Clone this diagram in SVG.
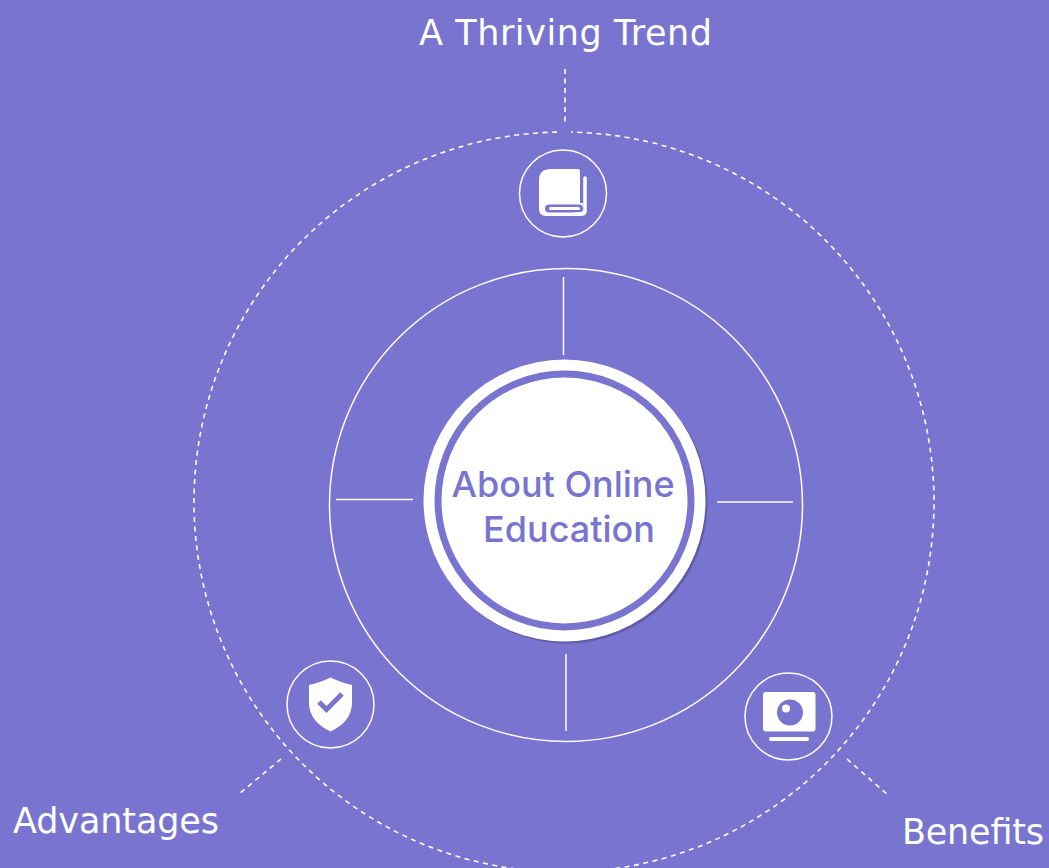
<svg xmlns="http://www.w3.org/2000/svg" width="1049" height="868" viewBox="0 0 1049 868">
<style>
.t{font-family:"DejaVu Sans","Liberation Sans",sans-serif;font-size:35px;fill:#fff}
.c{font-family:"Inter","Liberation Sans",sans-serif;font-weight:500;font-size:36px;fill:#7874cf;text-anchor:middle}
.l{stroke:#fff;stroke-width:1.5;fill:none}
.d{stroke:#fff;stroke-width:1.6;fill:none;stroke-dasharray:5 4.500}
.w{fill:#fff}
.p{fill:#7874cf}
</style>
<rect width="1049" height="868" fill="#7874cf"/>
<g id="connectors">
<path class="d" d="M557 132.100A370 370 0 1 0 571 132.100"/>
<path class="l" d="M563.500 277V355M336 499.500H413M717 502H793M566 654V731"/>
<path class="d" d="M565 69V124M281 759L239 794M847 759L888 795"/>
<circle class="l" cx="566" cy="505" r="236.500"/>
</g>
<g id="center">
<circle cx="566.500" cy="502.500" r="141" fill="#5f5ca6"/>
<circle class="w" cx="564.500" cy="500.500" r="141"/>
<circle cx="564.500" cy="500.500" r="126.500" fill="none" stroke="#7874cf" stroke-width="7"/>
<text class="c" x="563" y="497">About Online</text>
<text class="c" x="569" y="542">Education</text>
</g>
<g id="trend">
<circle class="l" cx="563" cy="193.500" r="43.500"/>
<path class="w" d="M551 169H578Q580 169 580 171V203H583V213.500Q583 216 580 216H546Q539 216 539 209V180Q539 169 551 169Z"/>
<rect class="p" x="545" y="204.500" width="38" height="8" rx="4"/>
<rect class="w" x="549" y="207" width="31" height="3" rx="1.500"/>
<path d="M585 178V211Q585 214 582 214H575" fill="none" stroke="#fff" stroke-width="3.500" stroke-linecap="round"/>
<text class="t" x="419" y="45" textLength="293" lengthAdjust="spacing">A Thriving Trend</text>
</g>
<g id="advantages">
<circle class="l" cx="330.500" cy="704.500" r="43.500"/>
<path class="w" d="M330.500 677.500Q319 683 309 685V704Q310 722 330.500 731.500Q351 722 352 704V685Q342 683 330.500 677.500Z"/>
<path d="M319 702L326.500 709.500L342 694" fill="none" stroke="#7874cf" stroke-width="5"/>
<text class="t" x="13" y="833" textLength="206" lengthAdjust="spacing">Advantages</text>
</g>
<g id="benefits">
<circle class="l" cx="788.500" cy="716.500" r="43.500"/>
<rect class="w" x="763" y="692" width="52.500" height="39.500" rx="3"/>
<circle class="p" cx="790" cy="712.500" r="13"/>
<circle class="w" cx="786" cy="708.500" r="4"/>
<rect class="w" x="769" y="737" width="40" height="4" rx="2"/>
<text class="t" x="902" y="844" textLength="142" lengthAdjust="spacing">Benefits</text>
</g>
</svg>
